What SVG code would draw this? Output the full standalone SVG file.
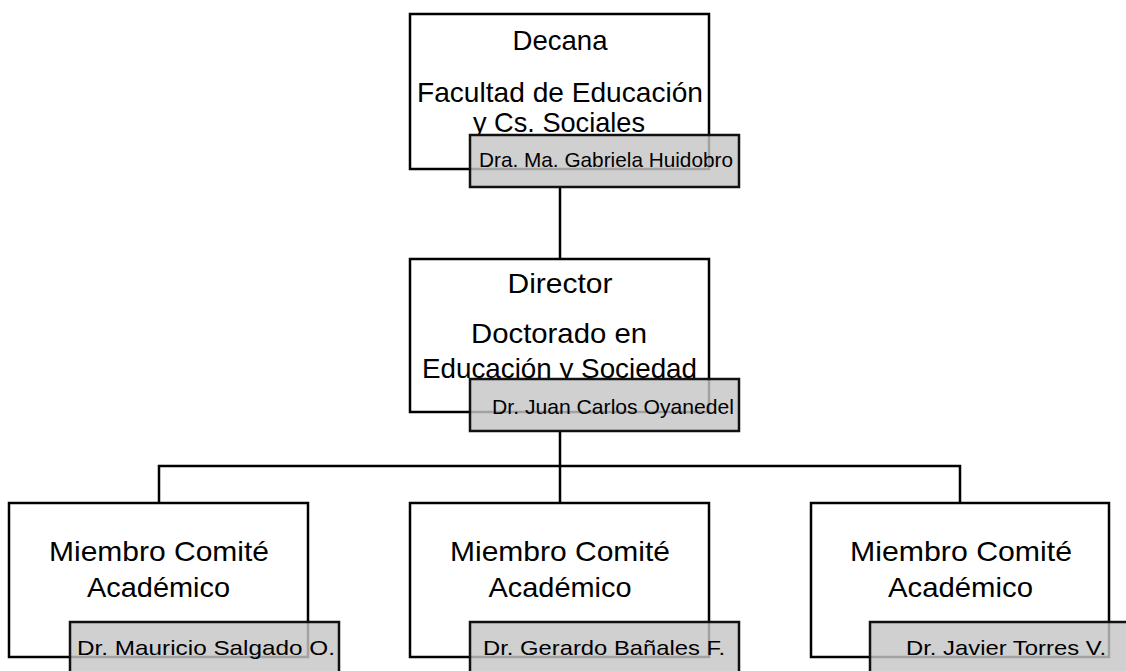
<svg xmlns="http://www.w3.org/2000/svg" width="1126" height="671" viewBox="0 0 1126 671">
<style>
.box{fill:#fff;stroke:#000;stroke-width:2.5}
.tag{fill:#c6c6c6;fill-opacity:0.82;stroke:#111;stroke-width:2.5}
.t{font-family:"Liberation Sans",Arial,sans-serif;font-size:28.5px;fill:#000;text-anchor:middle}
.s{font-family:"Liberation Sans",Arial,sans-serif;font-size:21px;fill:#000;text-anchor:middle}
.c{fill:none;stroke:#000;stroke-width:2.5}
</style>
<defs>
<clipPath id="clipTop"><rect x="0" y="0" width="1126" height="135"/></clipPath>
<clipPath id="clipDir"><rect x="0" y="0" width="1126" height="379"/></clipPath>
</defs>
<rect width="1126" height="671" fill="#fff"/>
<g id="connectors">
<path class="c" d="M560,187 V259"/>
<path class="c" d="M560,431 V466 M159,503 V466 H960 V503 M560,466 V503"/>
</g>
<g id="decana">
<rect class="box" x="410" y="14" width="299" height="155"/>
<g clip-path="url(#clipTop)">
<text class="t" x="560" y="50" textLength="95" lengthAdjust="spacingAndGlyphs">Decana</text>
<text class="t" x="560" y="102" textLength="286" lengthAdjust="spacingAndGlyphs">Facultad de Educación</text>
<text class="t" x="559" y="132" textLength="172" lengthAdjust="spacingAndGlyphs">y Cs. Sociales</text>
</g>
<rect class="tag" x="470" y="135" width="269" height="52"/>
<text class="s" x="606" y="167" textLength="254" lengthAdjust="spacingAndGlyphs">Dra. Ma. Gabriela Huidobro</text>
</g>
<g id="director">
<rect class="box" x="410" y="259" width="299" height="153"/>
<g clip-path="url(#clipDir)">
<text class="t" x="560" y="293" textLength="105" lengthAdjust="spacingAndGlyphs">Director</text>
<text class="t" x="559" y="343" textLength="176" lengthAdjust="spacingAndGlyphs">Doctorado en</text>
<text class="t" x="559.5" y="378" textLength="275" lengthAdjust="spacingAndGlyphs">Educación y Sociedad</text>
</g>
<rect class="tag" x="470" y="379" width="269" height="52"/>
<text class="s" x="613" y="414" textLength="242" lengthAdjust="spacingAndGlyphs">Dr. Juan Carlos Oyanedel</text>
</g>
<g id="miembro1">
<rect class="box" x="9" y="503" width="299" height="154"/>
<text class="t" x="159" y="561" textLength="220" lengthAdjust="spacingAndGlyphs">Miembro Comité</text>
<text class="t" x="158.5" y="597" textLength="143" lengthAdjust="spacingAndGlyphs">Académico</text>
<rect class="tag" x="70" y="622" width="269" height="60"/>
<text class="s" x="206" y="655" textLength="258" lengthAdjust="spacingAndGlyphs">Dr. Mauricio Salgado O.</text>
</g>
<g id="miembro2">
<rect class="box" x="410" y="503" width="299" height="154"/>
<text class="t" x="560" y="561" textLength="220" lengthAdjust="spacingAndGlyphs">Miembro Comité</text>
<text class="t" x="560" y="597" textLength="143" lengthAdjust="spacingAndGlyphs">Académico</text>
<rect class="tag" x="470" y="622" width="269" height="60"/>
<text class="s" x="604" y="655" textLength="242" lengthAdjust="spacingAndGlyphs">Dr. Gerardo Bañales F.</text>
</g>
<g id="miembro3">
<rect class="box" x="811" y="503" width="298" height="154"/>
<text class="t" x="961" y="561" textLength="222" lengthAdjust="spacingAndGlyphs">Miembro Comité</text>
<text class="t" x="960.5" y="597" textLength="145" lengthAdjust="spacingAndGlyphs">Académico</text>
<rect class="tag" x="870" y="622" width="269" height="60"/>
<text class="s" x="1006" y="655" textLength="200" lengthAdjust="spacingAndGlyphs">Dr. Javier Torres V.</text>
</g>
</svg>
